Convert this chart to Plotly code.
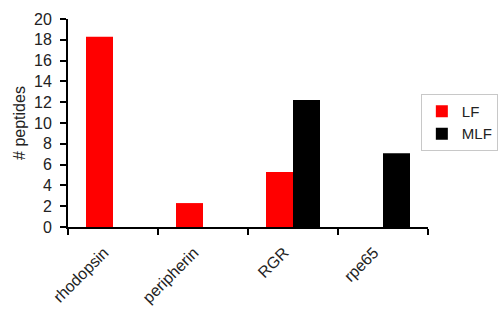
import plotly.graph_objects as go

categories = ["rhodopsin", "peripherin", "RGR", "rpe65"]
lf_values = [18.3, 2.3, 5.3, 0]
mlf_values = [0, 0, 12.2, 7.1]
y_ticks = list(range(0, 21, 2))

font = "Arial, Liberation Sans, sans-serif"

fig = go.Figure()
fig.add_trace(go.Bar(x=categories, y=lf_values, name="LF", marker=dict(color="#ff0000", line=dict(width=0))))
fig.add_trace(go.Bar(x=categories, y=mlf_values, name="MLF", marker=dict(color="#000000", line=dict(width=0))))

fig.update_layout(
    width=500, height=331,
    margin=dict(l=68, r=72, t=19, b=104, autoexpand=False),
    plot_bgcolor="white", paper_bgcolor="white",
    barmode="group", bargap=0.4, bargroupgap=0,
    font=dict(family=font, size=13, color="#222"),
    showlegend=True,
    legend=dict(x=1.194, y=0.64, xanchor="right", yanchor="top",
                bordercolor="#c8c8c8", borderwidth=1, bgcolor="white",
                font=dict(size=15, color="#222"), itemwidth=30, tracegroupgap=2),
    xaxis=dict(type="category", showline=True, linecolor="black", linewidth=2,
               ticks="outside", tickson="boundaries", ticklen=6, tickwidth=2, tickcolor="black",
               tickangle=-45, tickfont=dict(size=16), showgrid=False, automargin=False,
               ticklabelshift=-9, ticklabelstandoff=8),
    yaxis=dict(range=[0, 20], tickvals=y_ticks, showline=True, linecolor="black", linewidth=2,
               ticks="outside", ticklen=6, tickwidth=2, tickcolor="black",
               tickfont=dict(size=16), showgrid=False, zeroline=False, automargin=False,
               ticklabelstandoff=5,
               title=dict(text="# peptides", font=dict(size=16), standoff=4)),
)

fig.write_html("out.html")
